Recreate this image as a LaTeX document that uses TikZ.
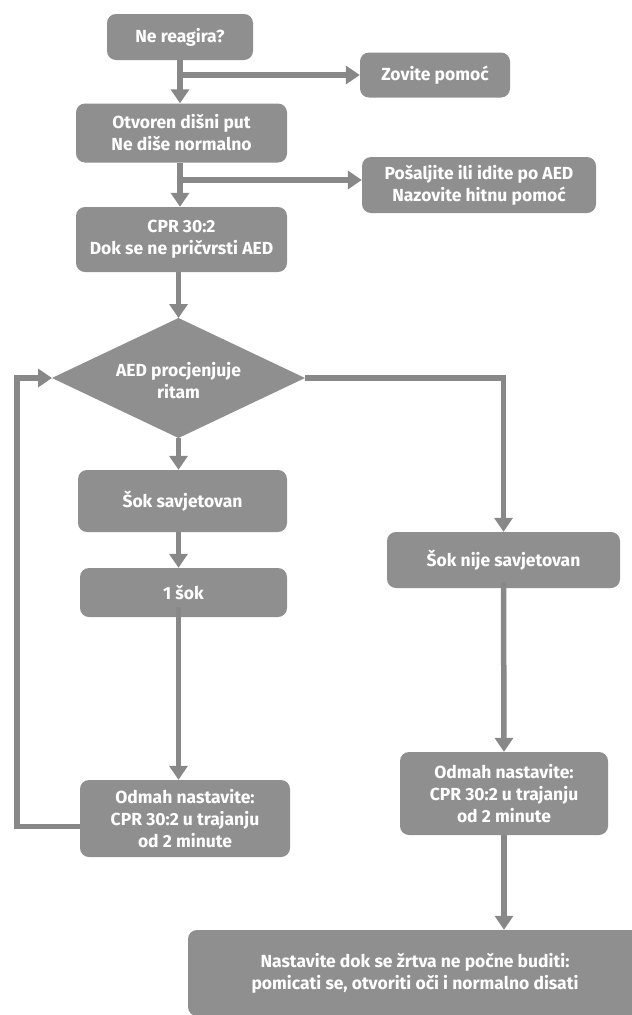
\documentclass[tikz,border=0pt]{standalone}
\usepackage{fontspec}
\setmainfont{Fira Sans}
\usetikzlibrary{arrows.meta}
\definecolor{boxgrey}{RGB}{143,143,143}
\definecolor{arrgrey}{RGB}{136,136,136}
\tikzset{
  txt/.style={text=white, font=\fontsize{17.5}{22}\selectfont\bfseries, align=center, inner sep=0pt},
  box/.style={txt, draw=none, fill=boxgrey, rounded corners=9pt},
  arr/.style={draw=arrgrey, line width=5.5pt, -{Triangle[width=18pt,length=14pt]}},
}
\begin{document}
\begin{tikzpicture}[x=1pt,y=-1pt]
\useasboundingbox (0,0) rectangle (632,1015);
\node[box, minimum width=146pt, minimum height=46pt] (ne) at (180,37) {Ne reagira?};
\node[box, minimum width=150pt, minimum height=45pt] (zov) at (435,75) {Zovite pomoć};
\node[box, minimum width=211pt, minimum height=59pt] (otv) at (181.5,133) {Otvoren dišni put\\Ne diše normalno};
\node[box, minimum width=234pt, minimum height=56pt] (pos) at (479,185) {Pošaljite ili idite po AED\\Nazovite hitnu pomoć};
\node[box, minimum width=211pt, minimum height=65pt] (cpr) at (181.5,239.5) {CPR 30:2\\Dok se ne pričvrsti AED};
% decision diamond
\coordinate (dt) at (178.5,318);
\coordinate (dl) at (52,378);
\coordinate (dr) at (305,378);
\coordinate (db) at (178.5,438);
\fill[boxgrey] (dt) -- (dr) -- (db) -- (dl) -- cycle;
\node[txt] (aed) at (178.5,381) {AED procjenjuje\\ritam};
\node[box, minimum width=209pt, minimum height=62pt] (sok) at (182.5,501) {Šok savjetovan};
\node[box, minimum width=207pt, minimum height=49pt] (jed) at (183.5,592.5) {1 šok};
\node[box, minimum width=210pt, minimum height=77pt] (odl) at (185,818.5) {Odmah nastavite:\\CPR 30:2 u trajanju\\od 2 minute};
\node[box, minimum width=233pt, minimum height=56pt] (nije) at (503.5,560) {Šok nije savjetovan};
\node[box, minimum width=208pt, minimum height=83pt] (odr) at (504,793.5) {Odmah nastavite:\\CPR 30:2 u trajanju\\od 2 minute};
\node[box, minimum width=454pt, minimum height=86pt] (fin) at (415,973) {Nastavite dok se žrtva ne počne buditi:\\pomicati se, otvoriti oči i normalno disati};
% connectors
\draw[arr] (ne.south) -- (otv.north -| ne.south);
\draw[arr] (ne.south |- zov.west) -- (zov.west);
\draw[arr] (otv.south -| ne.south) -- (cpr.north -| ne.south);
\coordinate (b2) at (180,180);
\draw[arr] (b2) -- (b2 -| pos.west);
\draw[arr] (cpr.south -| dt) -- (dt);
\draw[arr] (db) -- (sok.north -| db);
\draw[arr] (sok.south -| db) -- (jed.north -| db);
\draw[arr] ([yshift=10pt]jed.south -| db) -- (odl.north -| db);
\draw[arr] ([yshift=-8pt]odl.west) -- ++(-63,0) |- (dl);
\draw[arr] (dr) -| (nije.north);
\draw[arr] ([yshift=6pt]nije.south) -- (odr.north);
\draw[arr] (odr.south) -- (odr.south |- fin.north);
\end{tikzpicture}
\end{document}
